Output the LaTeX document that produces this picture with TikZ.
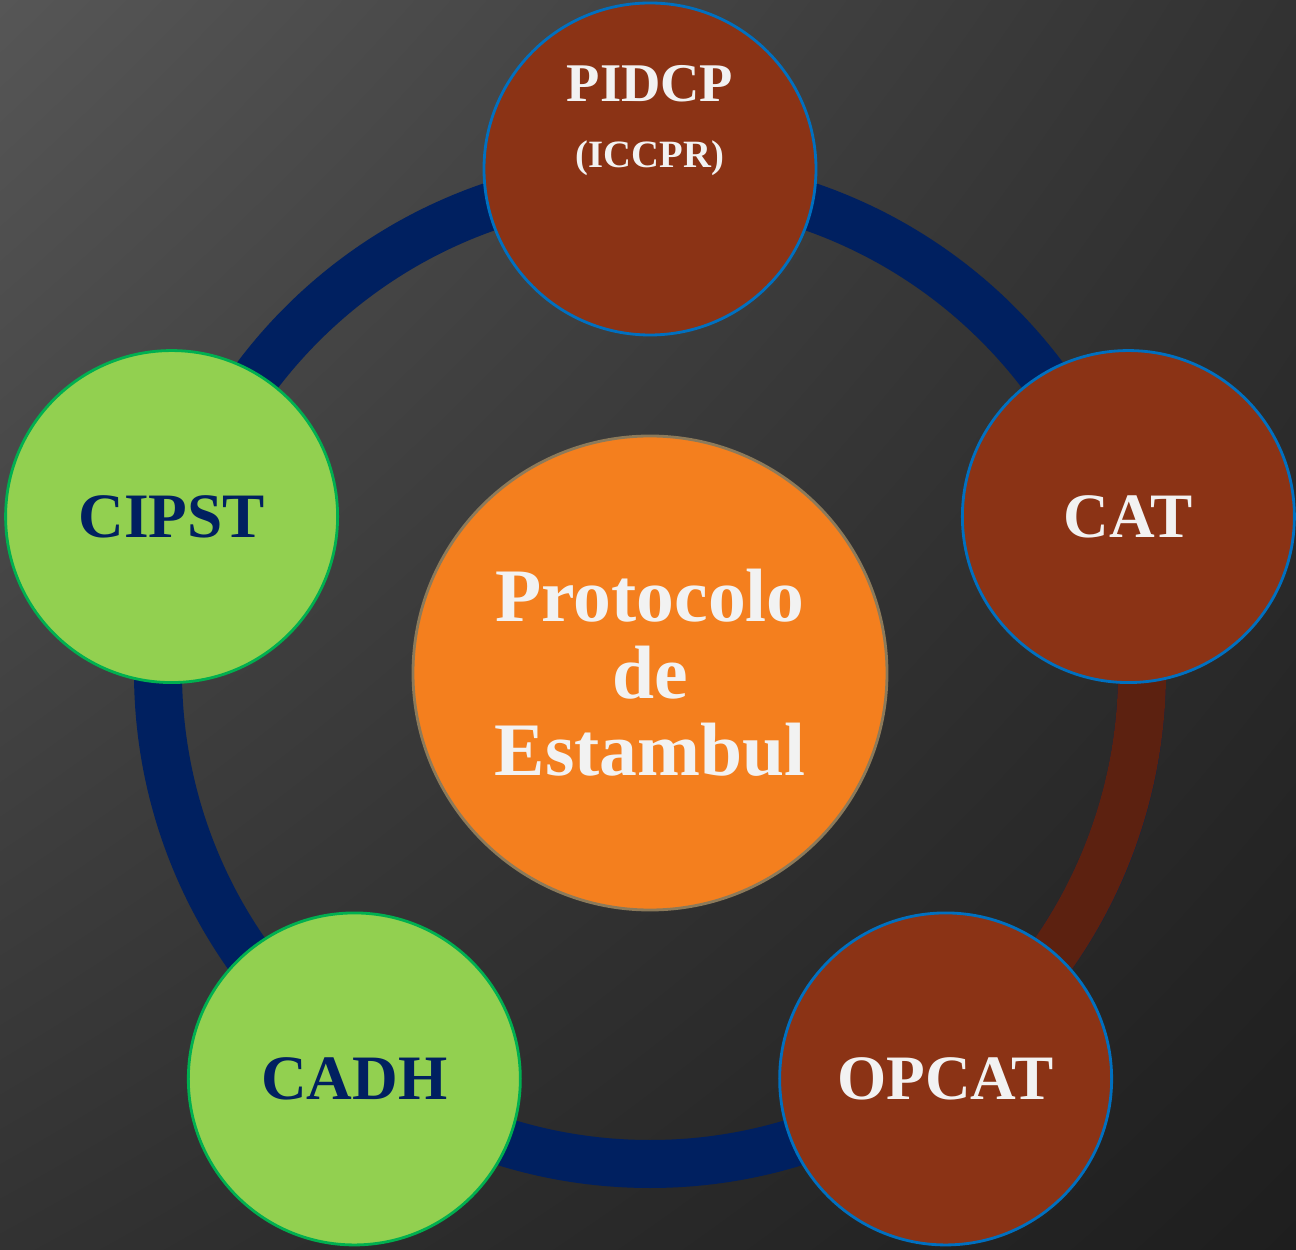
\documentclass[tikz,border=0pt]{standalone}
\usepackage{fontspec}
\setmainfont{Liberation Serif}
\usetikzlibrary{shadings}
\begin{document}
\begin{tikzpicture}[
    ring/.style={line width=0.48cm},
    treaty/.style={circle, minimum size=3.32cm, inner sep=0pt, line width=0.8pt,
      font=\fontsize{18}{20}\selectfont\bfseries},
    brown treaty/.style={treaty, fill=my-brown, draw=my-blue, text=my-white},
    green treaty/.style={treaty, fill=my-green, draw=my-dgreen, text=my-navy}]
    \def\R{5.03}
    \definecolor{my-bg-light}{RGB}{86,86,86}
    \definecolor{my-bg-mid}{RGB}{50,50,50}
    \definecolor{my-bg-dark}{RGB}{30,30,30}
    \definecolor{my-navy}{RGB}{0,32,96}
    \definecolor{my-rust}{RGB}{92,33,16}
    \definecolor{my-brown}{RGB}{139,51,21}
    \definecolor{my-blue}{RGB}{0,112,192}
    \definecolor{my-green}{RGB}{146,208,80}
    \definecolor{my-dgreen}{RGB}{0,176,80}
    \definecolor{my-orange}{RGB}{244,127,30}
    \definecolor{my-olive}{RGB}{140,122,90}
    \definecolor{my-white}{RGB}{242,242,242}
    % background
    \shade[upper left=my-bg-light, upper right=my-bg-mid, lower left=my-bg-mid,
      lower right=my-bg-dark] (-6.5,-5.78) rectangle (6.46,6.72);
    % ring
    \draw[ring, color=my-navy] (0,0) circle (4.92);
    \draw[ring, color=my-rust] (18:4.92) arc (18:-54:4.92);
    % centre
    \node[circle, minimum size=4.74cm, fill=my-orange, draw=my-olive, line width=0.8pt,
      text=my-white, align=center, font=\fontsize{21.5}{21.9}\selectfont\bfseries]
      (protocolo) at (0,-0.01) {Protocolo\\de\\Estambul};
    % treaties
    \node[brown treaty] (pidcp) at (90:\R) {};
    \node[anchor=base, text=my-white, font=\fontsize{15.5}{18}\selectfont\bfseries]
      (pidcp-name) at ([yshift=0.67cm]pidcp.center) {PIDCP};
    \node[anchor=base, text=my-white, font=\fontsize{11}{13}\selectfont\bfseries]
      (pidcp-en) at ([yshift=0.01cm]pidcp.center) {(ICCPR)};
    \node[brown treaty] (cat) at (18:\R) {CAT};
    \node[brown treaty] (opcat) at (-54:\R) {OPCAT};
    \node[green treaty] (cadh) at (234:\R) {CADH};
    \node[green treaty] (cipst) at (162:\R) {CIPST};
\end{tikzpicture}
\end{document}
